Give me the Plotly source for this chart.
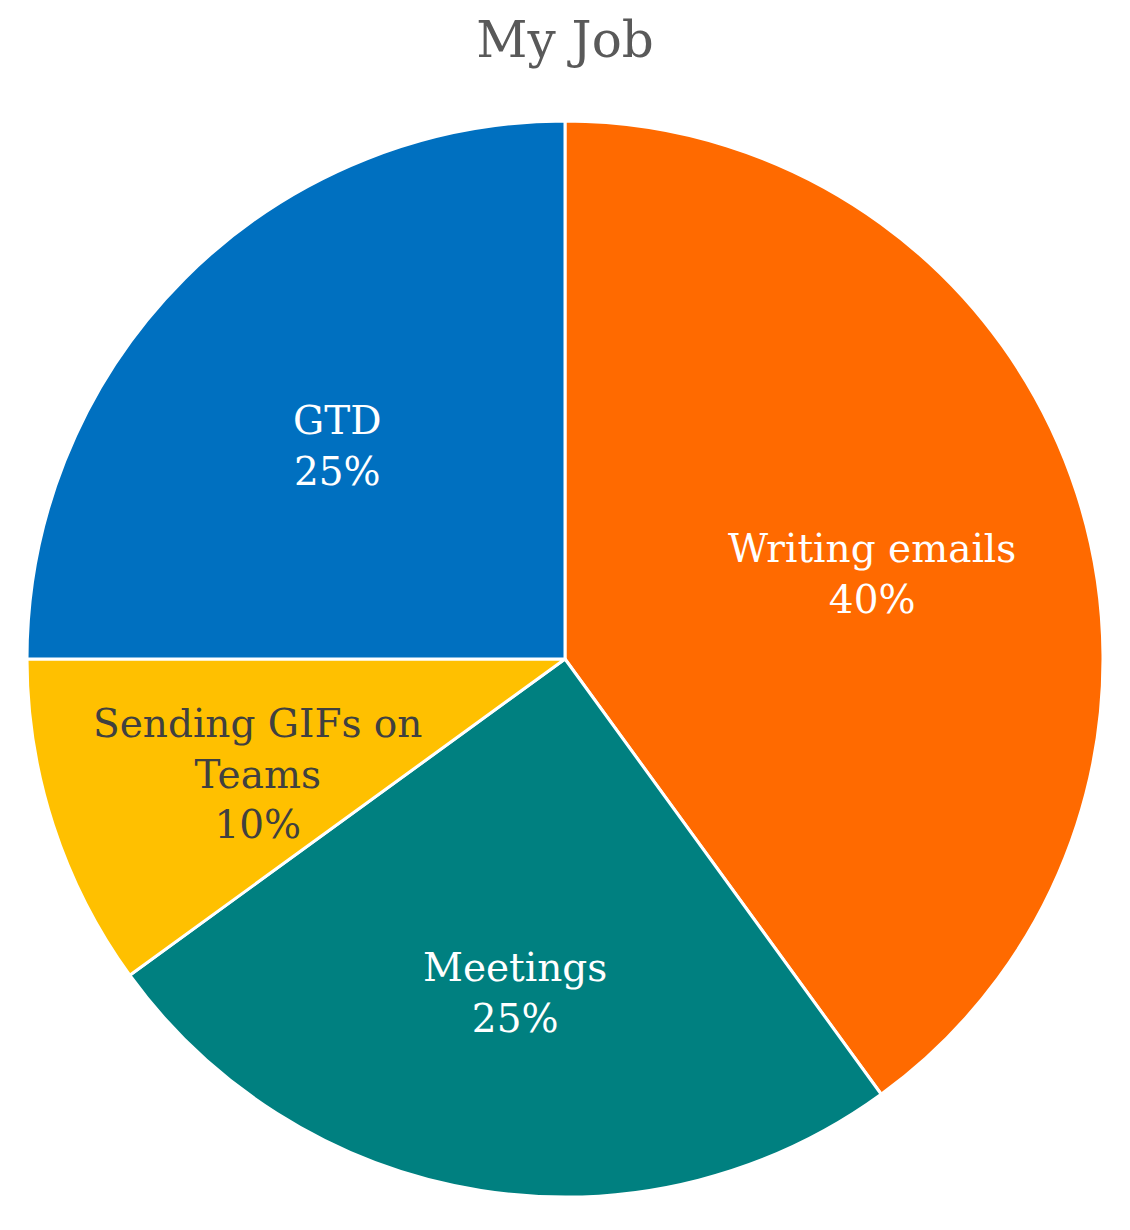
import math
import plotly.graph_objects as go

categories = ["Writing emails", "Meetings", "Sending GIFs on<br>Teams", "GTD"]
values = [40, 25, 10, 25]
colors = ["#FF6A00", "#008080", "#FFC000", "#0070C0"]
text_colors = ["#FFFFFF", "#FFFFFF", "#404040", "#FFFFFF"]

FONT = "DejaVu Serif, Liberation Serif, serif"
LABEL_RADIUS = 0.6      # fraction of pie radius where labels sit
LABEL_DROP = 15 / 1076  # small downward nudge of label blocks (paper units)

fig = go.Figure(go.Pie(
    labels=categories,
    values=values,
    sort=False,
    direction="clockwise",
    rotation=0,
    marker=dict(colors=colors, line=dict(color="#FFFFFF", width=3)),
    textinfo="none",
    hoverinfo="label+percent",
    showlegend=False,
    domain=dict(x=[0, 1], y=[0, 1]),
))

# Data labels placed at each slice's mid-angle (clockwise from 12 o'clock)
total = sum(values)
cum = 0
for lab, v, tc in zip(categories, values, text_colors):
    mid = (cum + v / 2) / total * 2 * math.pi
    cum += v
    x = 0.5 + 0.5 * LABEL_RADIUS * math.sin(mid)
    y = 0.5 + 0.5 * LABEL_RADIUS * math.cos(mid) - LABEL_DROP
    fig.add_annotation(
        x=x, y=y, xref="paper", yref="paper",
        text=f"{lab}<br>{v / total:.0%}",
        showarrow=False, xanchor="center", yanchor="middle",
        font=dict(family=FONT, size=39, color=tc),
    )

fig.update_layout(
    width=1130, height=1230,
    margin=dict(l=19, r=35, t=113, b=41),
    paper_bgcolor="white",
    plot_bgcolor="white",
    title=dict(text="My Job", x=0.5, xref="paper", xanchor="center",
               y=1 - 31 / 1230, yref="container", yanchor="middle",
               font=dict(family=FONT, size=50, color="#595959")),
)

fig.write_html("out.html")
